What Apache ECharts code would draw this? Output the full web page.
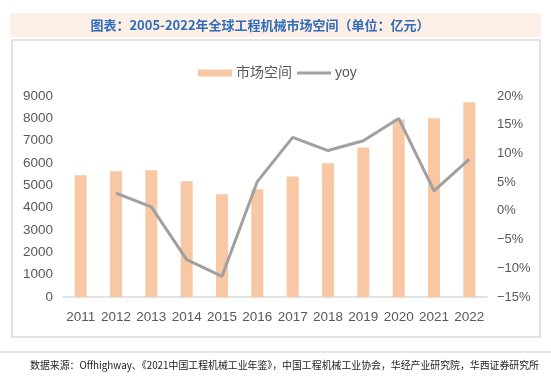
<!DOCTYPE html>
<html><head><meta charset="utf-8">
<script src="https://cdn.jsdelivr.net/npm/echarts@6/dist/echarts.min.js"></script>
<style>html,body{margin:0;padding:0;background:#fff}#c{width:551px;height:382px}</style>
</head><body><div id="c"></div>
<script>
const categories = ['2011','2012','2013','2014','2015','2016','2017','2018','2019','2020','2021','2022'];
const marketSize = [5450,5630,5670,5180,4600,4820,5400,5990,6690,7950,8000,8720];
const yoy = [null,3.1,0.7,-8.5,-11.4,5.1,12.8,10.5,12.2,16.1,3.5,9.0];
const titleText = '图表：2005-2022年全球工程机械市场空间（单位：亿元）';
const sourceText = '数据来源：Offhighway、《2021中国工程机械工业年鉴》，中国工程机械工业协会，华经产业研究院，华西证券研究所';
const seriesNames = ['市场空间','yoy'];

const chart = echarts.init(document.getElementById('c'), null, {renderer:'canvas'});
const font = 'Arial, "Liberation Sans", "Noto Sans CJK SC", sans-serif';
chart.setOption({
  animation:false,
  backgroundColor:'#fff',
  graphic:[
    {type:'rect',shape:{x:10,y:13,width:531,height:24},style:{fill:'#fdeee6'},z:-10},
    {type:'text',x:260,y:25,style:{text:titleText,fill:'#2f6eba',font:'bold 13px "Noto Sans CJK SC", sans-serif',textAlign:'center',textVerticalAlign:'middle'}},
    {type:'rect',shape:{x:12,y:40,width:528,height:297},style:{fill:'none',stroke:'#d9d9d9',lineWidth:1.5},z:-10},
    {type:'line',shape:{x1:0,y1:352,x2:551,y2:352},style:{stroke:'#d6dcea',lineWidth:1.5}},
    {type:'text',x:30,y:365,style:{text:sourceText,fill:'#222',font:'9.9px "Noto Sans CJK SC", sans-serif',textVerticalAlign:'middle'}}
  ],
  legend:{
    top:61,left:193,itemWidth:34,itemHeight:7,itemGap:5,
    textStyle:{fontSize:14,color:'#595959',fontFamily:font,padding:[0,0,0,-1]},
    data:[{name:seriesNames[0],icon:'rect'},{name:seriesNames[1],icon:'path://M0,0 L34,0 L34,3 L0,3 Z',itemStyle:{color:'#a0a0a0'}}]
  },
  grid:{left:63,right:64,top:96,bottom:85,containLabel:false},
  xAxis:{
    type:'category',data:categories,
    axisLine:{lineStyle:{color:'#d9d9d9',width:1.5}},
    axisTick:{show:false},
    axisLabel:{color:'#595959',fontSize:13.5,fontFamily:font,margin:14,interval:0}
  },
  yAxis:[
    {type:'value',min:0,max:9000,interval:1000,
     axisLine:{show:false},axisTick:{show:false},splitLine:{show:false},
     axisLabel:{color:'#595959',fontSize:13.5,fontFamily:font,margin:10,formatter:v=>String(v)}},
    {type:'value',min:-15,max:20,interval:5,
     axisLine:{show:false},axisTick:{show:false},splitLine:{show:false},
     axisLabel:{color:'#595959',fontSize:13,fontFamily:font,margin:10,
       formatter:v=>(v<0?'\u2212'+(-v):v)+'%'}}
  ],
  series:[
    {name:seriesNames[0],type:'bar',data:marketSize,barWidth:12,itemStyle:{color:'#f8c7a4'}},
    {name:seriesNames[1],type:'line',yAxisIndex:1,data:yoy,symbol:'none',
     lineStyle:{color:'#a0a0a0',width:3},itemStyle:{color:'#a0a0a0'}}
  ]
});
</script></body></html>
